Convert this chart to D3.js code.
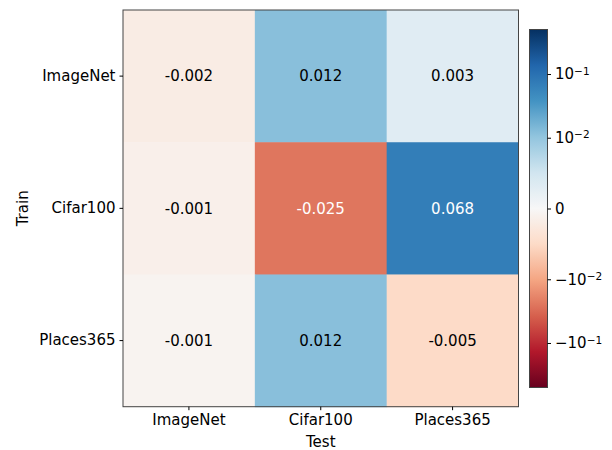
<!DOCTYPE html>
<html>
<head>
<meta charset="utf-8">
<script src="https://cdn.jsdelivr.net/npm/d3@7"></script>
<style>
  body { margin: 0; background: #fff; }
  text { font-family: "DejaVu Sans", sans-serif; }
</style>
</head>
<body>
<svg id="chart" width="612" height="450"></svg>
<script>
// data (shown rounded to 3 decimals)
var trainSets = ["ImageNet", "Cifar100", "Places365"];
var testSets = ["ImageNet", "Cifar100", "Places365"];
var values = [
  [-0.0020, 0.012, 0.003],
  [-0.0014, -0.025, 0.068],
  [-0.0007, 0.012, -0.005]
];
var cbTicks = [-0.1, -0.01, 0, 0.01, 0.1];
var cbLabels = ["\u221210", "\u221210", "0", "10", "10"];

var vmax = 0.5, linthresh = 0.01;

var svg = d3.select("#chart");
var plotLeft = 123, plotRight = 518.5, plotTop = 10, plotBottom = 406.7;
var fs = "15px";

// matplotlib style symlog (linscale 1, base 10)
var linscaleAdj = 1 / (1 - 1 / 10);
function symlog(v) {
  var a = Math.abs(v);
  if (a <= linthresh) return v / linthresh * linscaleAdj;
  return Math.sign(v) * (linscaleAdj + Math.log10(a / linthresh));
}
var tScale = d3.scaleLinear().domain([symlog(-vmax), symlog(vmax)]).range([0, 1]);

// matplotlib RdBu
var rdbu = ["#67001f", "#b2182b", "#d6604d", "#f4a582", "#fddbc7", "#f7f7f7",
            "#d1e5f0", "#92c5de", "#4393c3", "#2166ac", "#053061"];
var color = d3.scaleLinear()
  .domain(d3.range(11).map(function(i) { return i / 10; }))
  .range(rdbu)
  .interpolate(d3.interpolateRgb);
function colorOf(v) { return color(tScale(symlog(v))); }

var x = d3.scaleBand().domain(testSets).range([plotLeft, plotRight]);
var y = d3.scaleBand().domain(trainSets).range([plotTop, plotBottom]);

var cells = [];
values.forEach(function(row, i) {
  row.forEach(function(v, j) {
    cells.push({ train: trainSets[i], test: testSets[j], value: v });
  });
});

svg.append("g").selectAll("rect")
  .data(cells)
  .enter().append("rect")
  .attr("x", function(d) { return x(d.test); })
  .attr("y", function(d) { return y(d.train); })
  .attr("width", x.bandwidth() + 0.5)
  .attr("height", y.bandwidth() + 0.5)
  .attr("fill", function(d) { return colorOf(d.value); });

svg.append("g").selectAll("text")
  .data(cells)
  .enter().append("text")
  .attr("x", function(d) { return x(d.test) + x.bandwidth() / 2; })
  .attr("y", function(d) { return y(d.train) + y.bandwidth() / 2; })
  .attr("dy", "0.35em")
  .attr("text-anchor", "middle")
  .attr("font-size", fs)
  .attr("fill", function(d) {
    var t = tScale(symlog(d.value));
    return Math.abs(t - 0.5) > 0.25 ? "#fff" : "#000";
  })
  .text(function(d) { return d3.format(".3f")(d.value).replace("\u2212", "-"); });

svg.append("rect")
  .attr("x", plotLeft).attr("y", plotTop)
  .attr("width", plotRight - plotLeft).attr("height", plotBottom - plotTop)
  .attr("fill", "none").attr("stroke", "#444").attr("stroke-width", 1);

// axes
var xAxis = svg.append("g")
  .attr("transform", "translate(0," + plotBottom + ")")
  .call(d3.axisBottom(x).tickSize(3.5).tickPadding(4));
var yAxis = svg.append("g")
  .attr("transform", "translate(" + plotLeft + ",0)")
  .call(d3.axisLeft(y).tickSize(3.5).tickPadding(4));
[xAxis, yAxis].forEach(function(g) {
  g.select(".domain").remove();
  g.selectAll("text").attr("font-size", fs).attr("fill", "#000")
    .attr("font-family", "DejaVu Sans, sans-serif");
  g.selectAll("line").attr("stroke", "#000");
});

svg.append("text")
  .attr("x", (plotLeft + plotRight) / 2).attr("y", 446.5)
  .attr("text-anchor", "middle").attr("font-size", fs)
  .text("Test");
svg.append("text")
  .attr("transform", "translate(28," + (plotTop + plotBottom) / 2 + ") rotate(-90)")
  .attr("text-anchor", "middle").attr("font-size", fs)
  .text("Train");

// colorbar
var cbX = 529.5, cbW = 18, cbTop = 29.5, cbBottom = 387.5;
var cbY = d3.scaleLinear().domain([symlog(-vmax), symlog(vmax)]).range([cbBottom, cbTop]);
var defs = svg.append("defs");
var grad = defs.append("linearGradient").attr("id", "cbgrad")
  .attr("x1", 0).attr("y1", 1).attr("x2", 0).attr("y2", 0);
d3.range(0, 1.0001, 0.02).forEach(function(t) {
  grad.append("stop").attr("offset", t).attr("stop-color", color(t));
});
svg.append("rect")
  .attr("x", cbX).attr("y", cbTop).attr("width", cbW).attr("height", cbBottom - cbTop)
  .attr("fill", "url(#cbgrad)").attr("stroke", "#444").attr("stroke-width", 1);

var cbAxis = svg.append("g")
  .attr("transform", "translate(" + (cbX + cbW) + ",0)")
  .call(d3.axisRight(cbY).tickValues(cbTicks.map(symlog)).tickSize(3.5).tickPadding(4)
    .tickFormat(function(d, i) { return cbLabels[i]; }));
cbAxis.select(".domain").remove();
cbAxis.selectAll("line").attr("stroke", "#000");
cbAxis.selectAll("text").attr("font-size", fs).attr("fill", "#000")
  .attr("font-family", "DejaVu Sans, sans-serif")
  .each(function(d, i) {
    if (cbTicks[i] === 0) return;
    var exp = Math.round(Math.log10(Math.abs(cbTicks[i])));
    d3.select(this).append("tspan")
      .attr("dy", "-0.45em").attr("font-size", "10.5px")
      .text("\u2212" + Math.abs(exp));
  });
</script>
</body>
</html>
